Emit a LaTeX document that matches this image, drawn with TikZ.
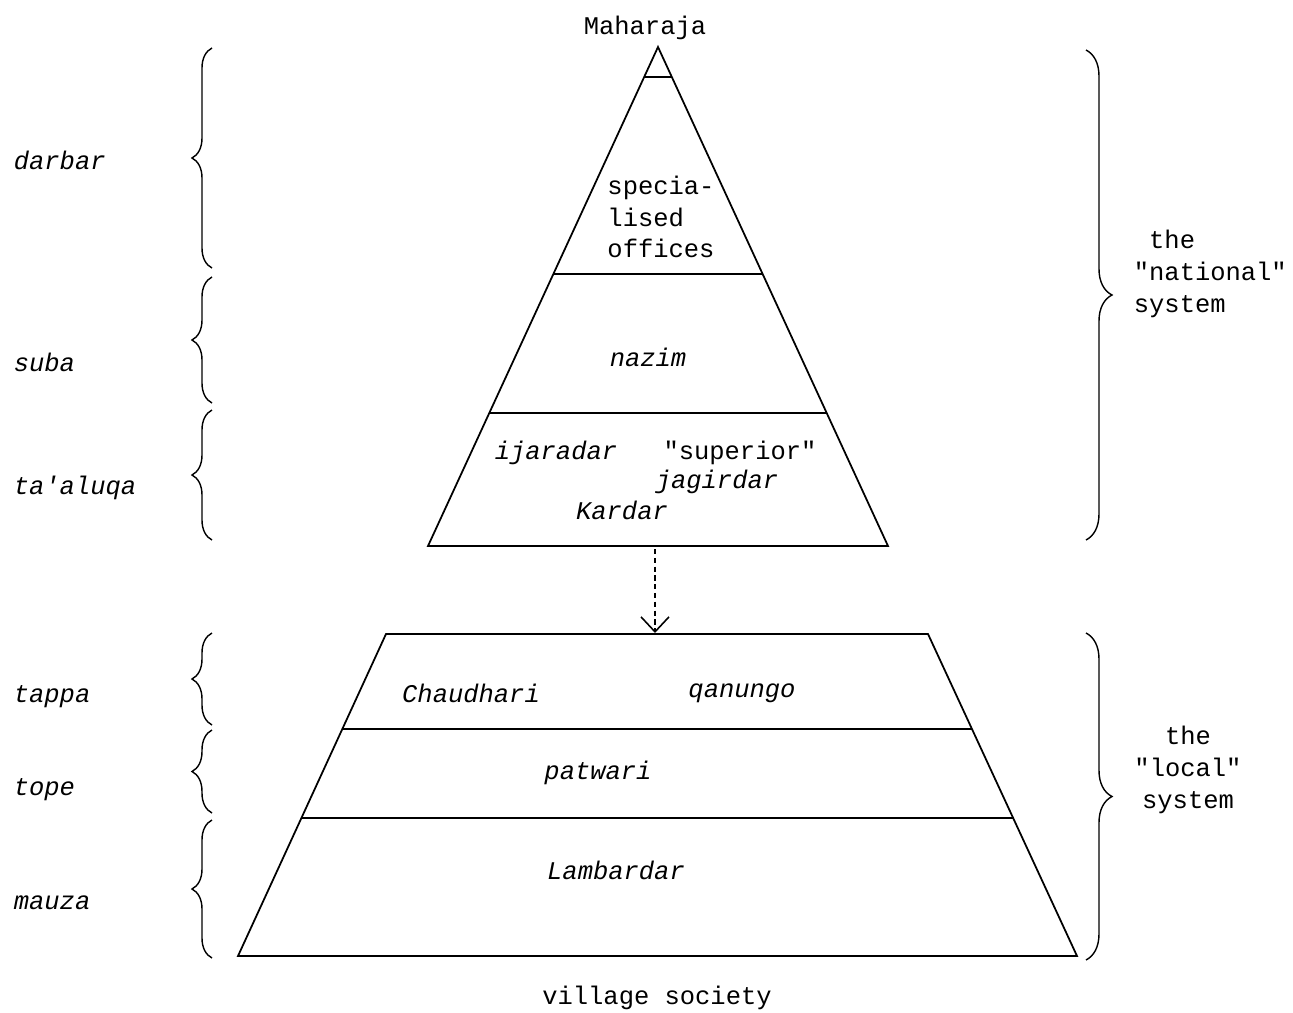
\documentclass[tikz,border=0pt]{standalone}
\usepackage{fontspec}
\newfontfamily\typer{Liberation Mono}
\usetikzlibrary{arrows.meta,calc,decorations.pathreplacing}

\begin{document}
\begin{tikzpicture}[
    x=0.2mm, y=-0.2mm,
    line width=1pt,
    typetext/.style={font=\typer\fontsize{14.5}{18}\selectfont, inner sep=0pt},
    scripttext/.style={font=\typer\itshape\fontsize{14.5}{18}\selectfont, inner sep=0pt},
    levelname/.style={scripttext, anchor=west},
    leftbrace/.style={decorate, decoration={brace, amplitude=4mm}, line width=0.8pt},
    rightbrace/.style={decorate, decoration={brace, amplitude=5.2mm}, line width=0.8pt},
    flow/.style={line width=0.9pt, dash pattern=on 3pt off 2pt, -{Straight Barb[length=3mm, width=5.6mm]}}
]
\useasboundingbox (0,0) rectangle (1293,1013);

% Upper pyramid (the "national" system)
\coordinate (apex) at (658,47);
\coordinate (ubl) at (428,546);
\coordinate (ubr) at (888,546);
\draw (ubl) -- (apex) -- (ubr) -- cycle;
\foreach \t in {0.06, 0.455, 0.733} {
    \draw ($(apex)!\t!(ubl)$) -- ($(apex)!\t!(ubr)$);
}

% Lower trapezoid (the "local" system)
\coordinate (ltl) at (386,634);
\coordinate (ltr) at (928,634);
\coordinate (lbl) at (238,956);
\coordinate (lbr) at (1077,956);
\draw (lbl) -- (ltl) -- (ltr) -- (lbr) -- cycle;
\foreach \t in {0.295, 0.571} {
    \draw ($(ltl)!\t!(lbl)$) -- ($(ltr)!\t!(lbr)$);
}

% Link between the two systems
\coordinate (ubase) at (655,549);
\coordinate (ltop) at (655,633);
\draw[flow] (ubase) -- (ltop);

% Offices inside the pyramid
\node[typetext] (maharaja) at (645,28) {Maharaja};
\node[typetext, align=left] (offices) at (661,217) {specia-\\lised\\offices};
\node[scripttext] (nazim) at (648,357) {nazim};
\node[scripttext] (ijaradar) at (556,453) {ijaradar};
\node[typetext] (superior) at (740,453) {"superior"};
\node[scripttext] (jagirdar) at (717,482) {jagirdar};
\node[scripttext] (kardar) at (622,510) {Kardar};
\node[scripttext] (chaudhari) at (471,693) {Chaudhari};
\node[scripttext] (qanungo) at (742,693) {qanungo};
\node[scripttext] (patwari) at (598,773) {patwari};
\node[scripttext] (lambardar) at (616,870) {Lambardar};
\node[typetext] (village) at (657,998) {village society};

% Administrative units (left braces)
\foreach \lo/\hi/\nm/\word/\ya in {268/48/darbar/darbar/160, 403/277/suba/suba/362,
        540/410/taaluqa/ta'aluqa/488, 725/633/tappa/tappa/697,
        813/730/tope/tope/790, 958/820/mauza/mauza/903} {
    \draw[leftbrace] (212,\lo) -- (212,\hi);
    \node[levelname] (\nm) at (13,\ya) {\word};
}

% Systems (right braces)
\draw[rightbrace] (1086,50) -- (1086,540);
\draw[rightbrace] (1086,633) -- (1086,960);
\node[typetext, align=left, anchor=west] (national) at (1133,274) {\ the\\"national"\\system};
\node[typetext, align=center] (local) at (1188,770) {the\\"local"\\system};

\end{tikzpicture}
\end{document}
